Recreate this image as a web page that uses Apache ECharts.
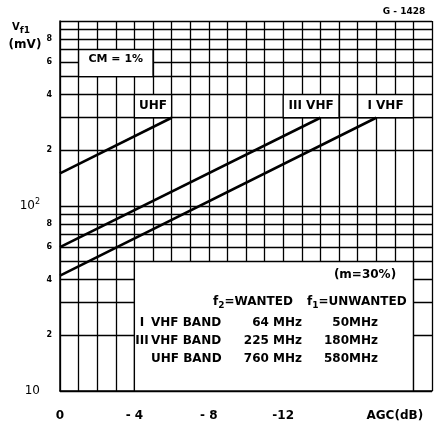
<!DOCTYPE html>
<html><head><meta charset="utf-8">
<script src="https://cdn.jsdelivr.net/npm/echarts@6/dist/echarts.min.js"></script>
<style>html,body{margin:0;padding:0;background:#fff}#c{width:435px;height:425px}</style>
</head><body><div id="c"></div>
<script>
// ---- data ----
const xTickLabels = {'0':'0','-4':'- 4','-8':'- 8','-12':'-12','-18':'AGC(dB)'};
const yMinorLines = [20,30,40,50,60,70,80,90,200,300,400,500,600,700,800,900];
const yMinorLabels = {20:'2',40:'4',60:'6',80:'8',200:'2',400:'4',600:'6',800:'8'};
const uhfLine  = [[0,150],[-6,300]];
const vhf3Line = [[0,60],[-14,300]];
const vhf1Line = [[0,42],[-17,300]];
const curveLabels = ['UHF','III VHF','I VHF'];
const bandRows = [['I','VHF BAND','64 MHz','50MHz'],['III','VHF BAND','225 MHz','180MHz'],['','UHF BAND','760 MHz','580MHz']];

const FONT = 'DejaVu Sans';
const chart = echarts.init(document.getElementById('c'), null, {renderer:'canvas'});
const black = '#000';
const areaLabel = (txt, size, off) => ({show:true, position:'inside', formatter:txt, color:black,
  fontFamily:FONT, fontWeight:'bold', fontSize:size, offset:off||[0,0]});

function txt(text, x, y, size, align, extra) {
  return Object.assign({type:'text', x:x, y:y, z:50, silent:true,
    style:{text:text, fill:black, font:'bold '+size+'px "'+FONT+'"', textAlign:align||'left', textVerticalAlign:'middle'}}, extra||{});
}
const sub = {s:{fontSize:9, fontWeight:'bold', fontFamily:FONT, padding:[7,0,0,0], fill:black}};

const graphics = [
  txt('G - 1428', 404, 12, 9, 'center'),
  {type:'text', x:12, y:27, z:50, style:{text:'V{s|f1}', fill:black, font:'bold 10px "'+FONT+'"', textVerticalAlign:'middle', rich:{s:{fontSize:9,fontWeight:'bold',fontFamily:FONT,padding:[8,0,0,0]}}}},
  txt('(mV)', 25, 45, 12, 'center'),
  txt('(m=30%)', 365, 275, 12, 'center'),
  {type:'text', x:213, y:302, z:50, style:{text:'f{s|2}=WANTED', fill:black, font:'bold 12px "'+FONT+'"', textVerticalAlign:'middle', rich:sub}},
  {type:'text', x:307, y:302, z:50, style:{text:'f{s|1}=UNWANTED', fill:black, font:'bold 12px "'+FONT+'"', textVerticalAlign:'middle', rich:sub}},
];
bandRows.forEach((r,i)=>{
  const y = 323 + i*18;
  if (r[0]) graphics.push(txt(r[0], 142, y, 12, 'center'));
  graphics.push(txt(r[1], 151, y, 12, 'left'));
  graphics.push(txt(r[2], 302, y, 12, 'right'));
  graphics.push(txt(r[3], 378, y, 12, 'right'));
});

const option = {
  animation:false,
  backgroundColor:'#fff',
  grid:{left:60, right:2, top:21, bottom:34},
  xAxis:{type:'value', min:-20, max:0, interval:1, inverse:true,
    axisLine:{onZero:false, lineStyle:{color:black, width:1.5}},
    axisTick:{show:false},
    splitLine:{show:true, lineStyle:{color:black, width:1.3}},
    axisLabel:{margin:19, color:black, fontFamily:FONT, fontWeight:'bold', fontSize:12,
      formatter:v=>xTickLabels[String(v)]||''}},
  yAxis:{type:'log', logBase:10, min:10, max:1000,
    axisLine:{show:true, lineStyle:{color:black, width:1.5}},
    axisTick:{show:false},
    splitLine:{show:true, lineStyle:{color:black, width:1.3}},
    axisLabel:{margin:20, color:black, fontFamily:FONT, fontSize:12,
      formatter:v=> v===10?'10':(v===100?'10{s|2}':''),
      rich:{s:{fontSize:8, fontFamily:FONT, padding:[0,0,8,0]}}}},
  graphic:graphics,
  series:[
    {type:'line', data:[], silent:true, z:1,
      markLine:{silent:true, z:1, symbol:['none','none'], animation:false,
        lineStyle:{color:black, width:1.3, type:'solid'},
        data: yMinorLines.map(v=>[
          {coord:[0,v], label:{show:!!yMinorLabels[v], position:'start', formatter:yMinorLabels[v]||'',
            color:black, fontFamily:FONT, fontWeight:'bold', fontSize:8, distance:8}},
          {coord:[-20,v]}])}},
    {type:'line', data:[], silent:true, z:3,
      markArea:{silent:true, z:3, animation:false,
        itemStyle:{color:'#fff', borderColor:black, borderWidth:1.3, opacity:1},
        data:[
          [{coord:[-1,700], label:areaLabel('CM = 1%',11,[0,-4])},{coord:[-5,500]}],
          [{coord:[-4,400], label:areaLabel(curveLabels[0],12)},{coord:[-6,300]}],
          [{coord:[-12,400], label:areaLabel(curveLabels[1],12)},{coord:[-15,300]}],
          [{coord:[-16,400], label:areaLabel(curveLabels[2],12)},{coord:[-19,300]}],
          [{coord:[-4,50], label:{show:false}},{coord:[-19,10]}]
        ]}},
    {type:'line', name:'UHF', data:uhfLine, symbol:'none', z:10, silent:true, lineStyle:{color:black, width:2.6}},
    {type:'line', name:'III VHF', data:vhf3Line, symbol:'none', z:10, silent:true, lineStyle:{color:black, width:2.6}},
    {type:'line', name:'I VHF', data:vhf1Line, symbol:'none', z:10, silent:true, lineStyle:{color:black, width:2.6}}
  ]
};
chart.setOption(option);
</script></body></html>
